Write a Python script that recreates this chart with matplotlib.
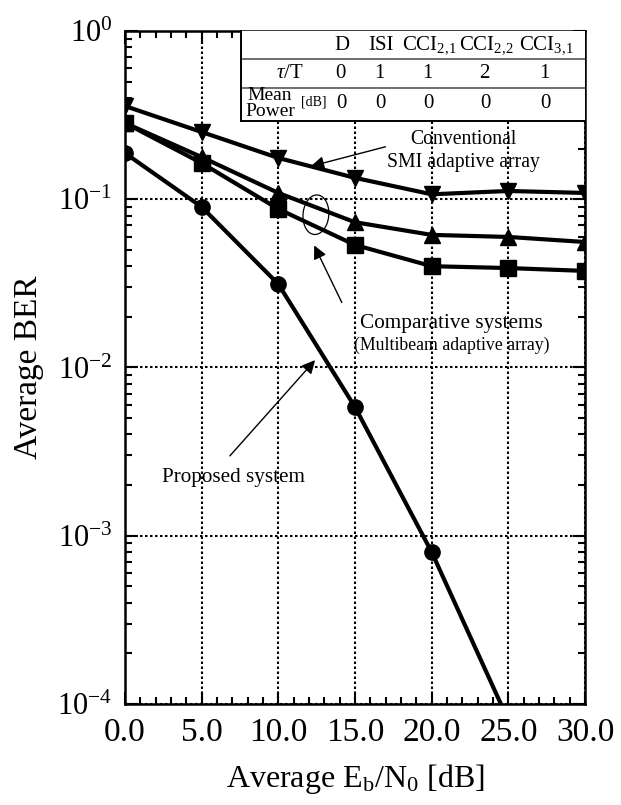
import numpy as np
import matplotlib
matplotlib.use("Agg")
import matplotlib.pyplot as plt
import matplotlib.ticker as mticker
import matplotlib.patches as mpatches

plt.rcParams['font.family'] = ['Liberation Serif', 'DejaVu Serif']
plt.rcParams['mathtext.fontset'] = 'custom'
plt.rcParams['mathtext.rm'] = 'Liberation Serif'
plt.rcParams['mathtext.it'] = 'Liberation Serif:italic'

# data
ebn0 = [0.0, 5.0, 10.0, 15.0, 20.0, 25.0, 30.0]
ber_conventional = [0.358, 0.251, 0.176, 0.134, 0.107, 0.112, 0.109]
ber_comp_tri = [0.284, 0.178, 0.109, 0.073, 0.0614, 0.0597, 0.0557]
ber_comp_sq = [0.284, 0.164, 0.0875, 0.0535, 0.040, 0.039, 0.0375]
ebn0_proposed = [0.0, 5.0, 10.0, 15.0, 20.0, 25.0]
ber_proposed = [0.188, 0.090, 0.0313, 0.00582, 0.0008, 0.00008]

# inset table
col_names = ['D', 'ISI', 'CCI$_{2,\\!1}$', 'CCI$_{2,\\!2}$', 'CCI$_{3,\\!1}$']
tau_row = ['0', '1', '1', '2', '1']
power_row = ['0', '0', '0', '0', '0']

W, H = 621, 805
fig = plt.figure(figsize=(W / 100, H / 100), dpi=100)

# axes box in pixels (left, top, right, bottom)
L, T, R, B = 125, 31, 585, 704
ax = fig.add_axes((L / W, 1 - B / H, (R - L) / W, (B - T) / H))

lw = 3.0
ax.plot(ebn0, ber_conventional, color='black', lw=lw, marker='v', ms=11, zorder=5)
ax.plot(ebn0, ber_comp_tri, color='black', lw=lw, marker='^', ms=11, zorder=5)
ax.plot(ebn0, ber_comp_sq, color='black', lw=lw, marker='s', ms=11, zorder=5)
ax.plot(ebn0_proposed, ber_proposed, color='black', lw=lw, marker='o', ms=11, zorder=5)

ax.set_yscale('log')
ax.set_xlim(0, 30)
ax.set_ylim(1e-4, 1)
ax.set_xticks(np.arange(0, 31, 5))
ax.xaxis.set_major_formatter(mticker.FormatStrFormatter('%.1f'))
ax.xaxis.set_minor_locator(mticker.MultipleLocator(1))
ax.yaxis.set_major_locator(mticker.LogLocator(base=10, numticks=10))
ax.yaxis.set_minor_locator(mticker.LogLocator(base=10, subs=np.arange(2, 10), numticks=20))
ax.yaxis.set_minor_formatter(mticker.NullFormatter())

ax.tick_params(which='both', direction='in', top=True, right=True, width=1.5)
ax.tick_params(which='major', length=9, labelsize=24)
ax.tick_params(axis='y', which='major', labelsize=22)
ax.tick_params(which='minor', length=5)
ax.tick_params(axis='x', which='major', pad=10)
ax.tick_params(axis='y', which='major', pad=9)
for s in ax.spines.values():
    s.set_linewidth(1.8)

ax.grid(True, which='major', linestyle=(0, (1.2, 1.2)), color='black', lw=1.5)

ax.set_xlabel('Average E$_\\mathrm{b}$/N$_0$ [dB]', fontsize=23, labelpad=10)
ax.set_ylabel('Average BER', fontsize=24, labelpad=10)

# annotations
ax.annotate('', xy=(11.94, 0.1555), xytext=(17.16, 0.207),
            arrowprops=dict(arrowstyle='-|>', color='black', lw=1.0, mutation_scale=20))
ax.text(22.05, 0.194, 'Conventional\nSMI adaptive array', fontsize=14.2,
        ha='center', va='center', linespacing=1.3)

ax.annotate('', xy=(12.26, 0.055), xytext=(14.22, 0.0235),
            arrowprops=dict(arrowstyle='-|>', color='black', lw=1.0, mutation_scale=20))
ax.text(0.71, 0.565, 'Comparative systems', fontsize=15.3, ha='center', va='center',
        transform=ax.transAxes)
ax.text(0.71, 0.533, '(Multibeam adaptive array)', fontsize=12.8, ha='center', va='center',
        transform=ax.transAxes)
loop = mpatches.Ellipse((0.415, 0.727), 0.06, 0.055, angle=60, fill=False,
                        lw=0.9, color='black', transform=ax.transAxes)
ax.add_patch(loop)

ax.annotate('', xy=(12.52, 0.01138), xytext=(6.72, 0.0029),
            arrowprops=dict(arrowstyle='-|>', color='black', lw=1.0, mutation_scale=20))
ax.text(7.05, 0.00223, 'Proposed system', fontsize=15.2, ha='center', va='center')

# inset table drawn in pixel units
tL, tT, tR, tB = 241, 31, 585, 121
tab = fig.add_axes((tL / W, 1 - tB / H, (tR - tL) / W, (tB - tT) / H))
tab.set_xlim(tL, tR)
tab.set_ylim(tB, tT)
tab.set_facecolor('white')
tab.set_xticks([])
tab.set_yticks([])
for side in ['top', 'right']:
    tab.spines[side].set_visible(False)
for side in ['left', 'bottom']:
    tab.spines[side].set_linewidth(1.4)
tab.axhline(59, color='#555555', lw=1.2)
tab.axhline(88, color='#555555', lw=1.2)

col_x = [342, 381, 429, 486, 546]
for x, name, tau, pw in zip(col_x, col_names, tau_row, power_row):
    tab.text(x, 45, name, fontsize=15, ha='center', va='center')
    tab.text(x - 2, 74, tau, fontsize=15, ha='center', va='center')
    tab.text(x - 1, 104, pw, fontsize=15, ha='center', va='center')
tab.text(290, 74, '$\\tau$/T', fontsize=15, ha='center', va='center')
tab.text(270, 96, 'Mean', fontsize=14, ha='center', va='center')
tab.text(270, 112, 'Power', fontsize=14, ha='center', va='center')
tab.text(314, 102, '[dB]', fontsize=10, ha='center', va='center')

fig.savefig('out.png', dpi=100)
